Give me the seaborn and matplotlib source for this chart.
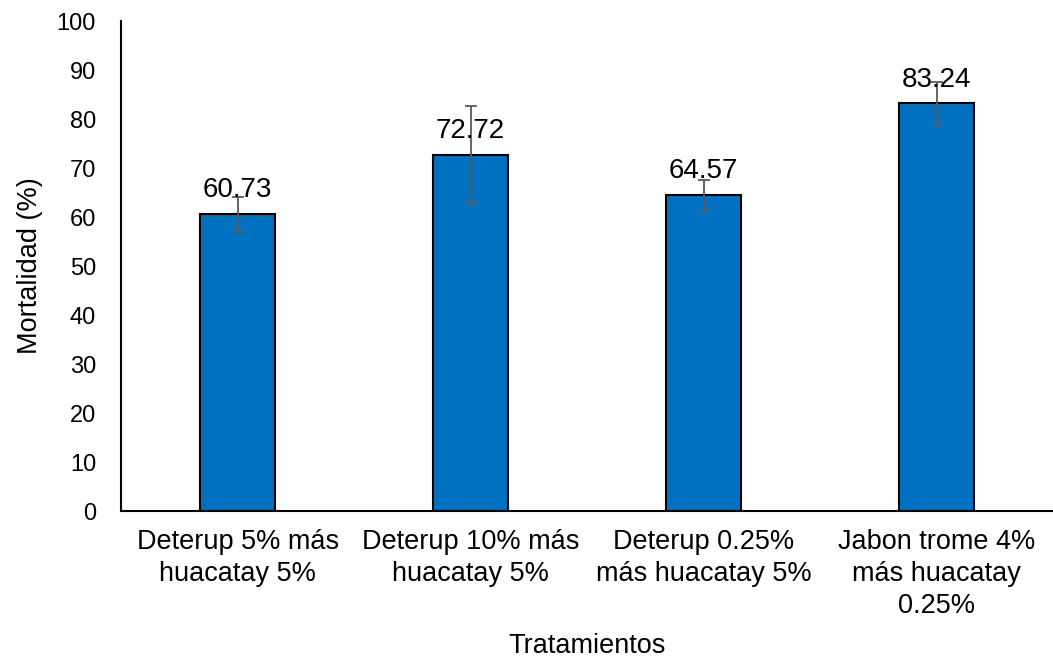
import pandas as pd
import numpy as np
import matplotlib
matplotlib.use('Agg')
import matplotlib.pyplot as plt
import seaborn as sns

# values
tratamientos = ['Deterup 5% más\nhuacatay 5%',
                'Deterup 10% más\nhuacatay 5%',
                'Deterup 0.25%\nmás huacatay 5%',
                'Jabon trome 4%\nmás huacatay\n0.25%']
mortalidad = [60.73, 72.72, 64.57, 83.24]
error = [3.4, 9.9, 3.1, 4.4]

sns.set_style('white')
plt.rcParams['font.family'] = ['Liberation Sans', 'DejaVu Sans']
plt.rcParams['text.color'] = 'black'
plt.rcParams['axes.labelcolor'] = 'black'
plt.rcParams['xtick.color'] = 'black'
plt.rcParams['ytick.color'] = 'black'

data = pd.DataFrame({'Tratamientos': tratamientos, 'Mortalidad': mortalidad})

fig = plt.figure(figsize=(10.53, 6.62), dpi=100)
ax = fig.add_axes([0.115, 0.228, 0.885, 0.74])

sns.barplot(data=data, x='Tratamientos', y='Mortalidad', color='#0070C0',
            width=0.32, edgecolor='black', linewidth=1.5, saturation=1,
            errorbar=None, ax=ax)

ax.errorbar(np.arange(len(mortalidad)), mortalidad, yerr=error, fmt='none',
            ecolor='#595959', elinewidth=1.3, capsize=4.5, capthick=1.3, zorder=5)

for i, v in enumerate(mortalidad):
    ax.annotate(f'{v:.2f}', (i, v), xytext=(0, 12), textcoords='offset points',
                ha='center', va='baseline', fontsize=20, zorder=6)

ax.set_ylim(0, 100)
ax.set_yticks(np.arange(0, 101, 10))
ax.set_xlim(-0.5, len(mortalidad) - 0.5)
ax.set_ylabel('Mortalidad (%)', fontsize=19.5, labelpad=10)
ax.set_xlabel('Tratamientos', fontsize=19.5, labelpad=10)
ax.tick_params(axis='y', labelsize=17, length=0, pad=18)
ax.tick_params(axis='x', labelsize=19.5, length=0, pad=13)
for lbl in ax.get_xticklabels():
    lbl.set_linespacing(1.3)

for side in ['top', 'right']:
    ax.spines[side].set_visible(False)
for side in ['left', 'bottom']:
    ax.spines[side].set_color('black')
    ax.spines[side].set_linewidth(1.5)

fig.savefig('out.png', dpi=100)
